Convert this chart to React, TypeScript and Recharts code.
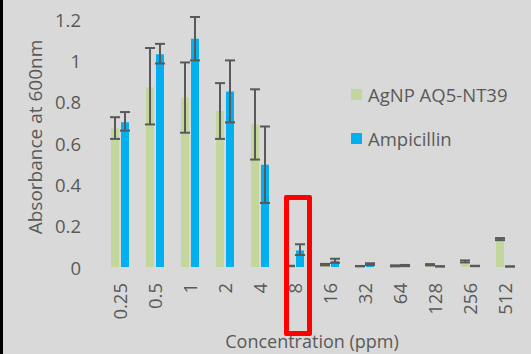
import * as React from 'react';
import { BarChart, Bar, XAxis, YAxis, ErrorBar } from 'recharts';

const concentrations = ['0.25', '0.5', '1', '2', '4', '8', '16', '32', '64', '128', '256', '512'];

const agnpValues = [0.67, 0.87, 0.82, 0.755, 0.69, 0.005, 0.01, 0.003, 0.004, 0.01, 0.025, 0.135];
const agnpLow = [0.62, 0.69, 0.65, 0.62, 0.52, 0.004, 0.008, 0.003, 0.003, 0.008, 0.022, 0.13];
const agnpHigh = [0.725, 1.06, 0.99, 0.89, 0.86, 0.006, 0.015, 0.005, 0.008, 0.014, 0.032, 0.14];

const ampValues = [0.7, 1.03, 1.105, 0.85, 0.495, 0.08, 0.03, 0.012, 0.006, 0.002, 0.005, 0.002];
const ampLow = [0.66, 0.985, 1.0, 0.7, 0.31, 0.058, 0.02, 0.01, 0.004, 0.002, 0.004, 0.002];
const ampHigh = [0.75, 1.08, 1.21, 1.0, 0.68, 0.11, 0.04, 0.018, 0.01, 0.004, 0.006, 0.003];

const yTicks = [0, 0.2, 0.4, 0.6, 0.8, 1, 1.2];

const series = [
  { name: 'AgNP AQ5-NT39', color: '#c3d69b' },
  { name: 'Ampicillin', color: '#00b0f0' },
];

const data = concentrations.map((conc, i) => ({
  conc,
  agnp: agnpValues[i],
  agnpErr: [agnpValues[i] - agnpLow[i], agnpHigh[i] - agnpValues[i]],
  amp: ampValues[i],
  ampErr: [ampValues[i] - ampLow[i], ampHigh[i] - ampValues[i]],
}));

const FONT = '"Open Sans", sans-serif';
const TEXT = '#595959';

const XTick = (props: any) => {
  const { x, payload } = props;
  return (
    <text
      x={x}
      y={283}
      transform={`rotate(-90, ${x}, 283)`}
      textAnchor="end"
      dominantBaseline="central"
      fill={TEXT}
      fontSize={18.5}
      fontFamily={FONT}
    >
      {payload.value}
    </text>
  );
};

const YTick = (props: any) => {
  const { y, payload } = props;
  return (
    <text x={81} y={y} textAnchor="end" dominantBaseline="central" fill={TEXT} fontSize={18.5} fontFamily={FONT}>
      {payload.value}
    </text>
  );
};

const YTitle = () => (
  <text
    x={35}
    y={137}
    transform="rotate(-90, 35, 137)"
    textAnchor="middle"
    dominantBaseline="central"
    fill={TEXT}
    fontSize={19}
    fontFamily={FONT}
  >
    Absorbance at 600nm
  </text>
);

const XTitle = (props: any) => {
  const { viewBox } = props;
  return (
    <text
      x={viewBox.x + viewBox.width / 2}
      y={341}
      textAnchor="middle"
      dominantBaseline="central"
      fill={TEXT}
      fontSize={18}
      fontFamily={FONT}
    >
      Concentration (ppm)
    </text>
  );
};

const App: React.FC = () => {
  return (
    <div
      style={{
        position: 'absolute',
        left: 0,
        top: 0,
        width: 531,
        height: 354,
        background: '#d9d9d9',
        overflow: 'hidden',
      }}
    >
      <div style={{ position: 'absolute', left: 0, top: 0, width: 3, height: 354, background: '#000' }} />
      <BarChart
        width={531}
        height={354}
        data={data}
        margin={{ top: 17, right: 9, left: 0, bottom: 0 }}
        barSize={8}
        barGap={2}
      >
        <XAxis
          dataKey="conc"
          interval={0}
          tickLine={false}
          axisLine={false}
          height={87}
          tick={<XTick />}
          label={<XTitle />}
        />
        <YAxis
          domain={[0, 1.2]}
          ticks={yTicks}
          width={102}
          tickLine={false}
          axisLine={false}
          tick={<YTick />}
          label={<YTitle />}
        />
        <Bar dataKey="agnp" name={series[0].name} fill={series[0].color} isAnimationActive={false}>
          <ErrorBar dataKey="agnpErr" width={5} stroke="#595959" strokeWidth={2} isAnimationActive={false} />
        </Bar>
        <Bar dataKey="amp" name={series[1].name} fill={series[1].color} isAnimationActive={false}>
          <ErrorBar dataKey="ampErr" width={5} stroke="#595959" strokeWidth={2} isAnimationActive={false} />
        </Bar>
      </BarChart>
      <div style={{ position: 'absolute', left: 351, top: 83, fontFamily: FONT, fontSize: 18.5, color: TEXT }}>
        {series.map((item, i) => (
          <div key={item.name} style={{ display: 'flex', alignItems: 'center', height: 22, marginTop: i === 0 ? 0 : 22 }}>
            <span style={{ display: 'inline-block', width: 11, height: 11, background: item.color, marginRight: 6 }} />
            <span style={{ whiteSpace: 'nowrap' }}>{item.name}</span>
          </div>
        ))}
      </div>
      <div
        style={{
          position: 'absolute',
          left: 284,
          top: 195,
          width: 18,
          height: 131,
          border: '5px solid #ff0000',
          borderRadius: 2,
        }}
      />
    </div>
  );
};

export default App;
